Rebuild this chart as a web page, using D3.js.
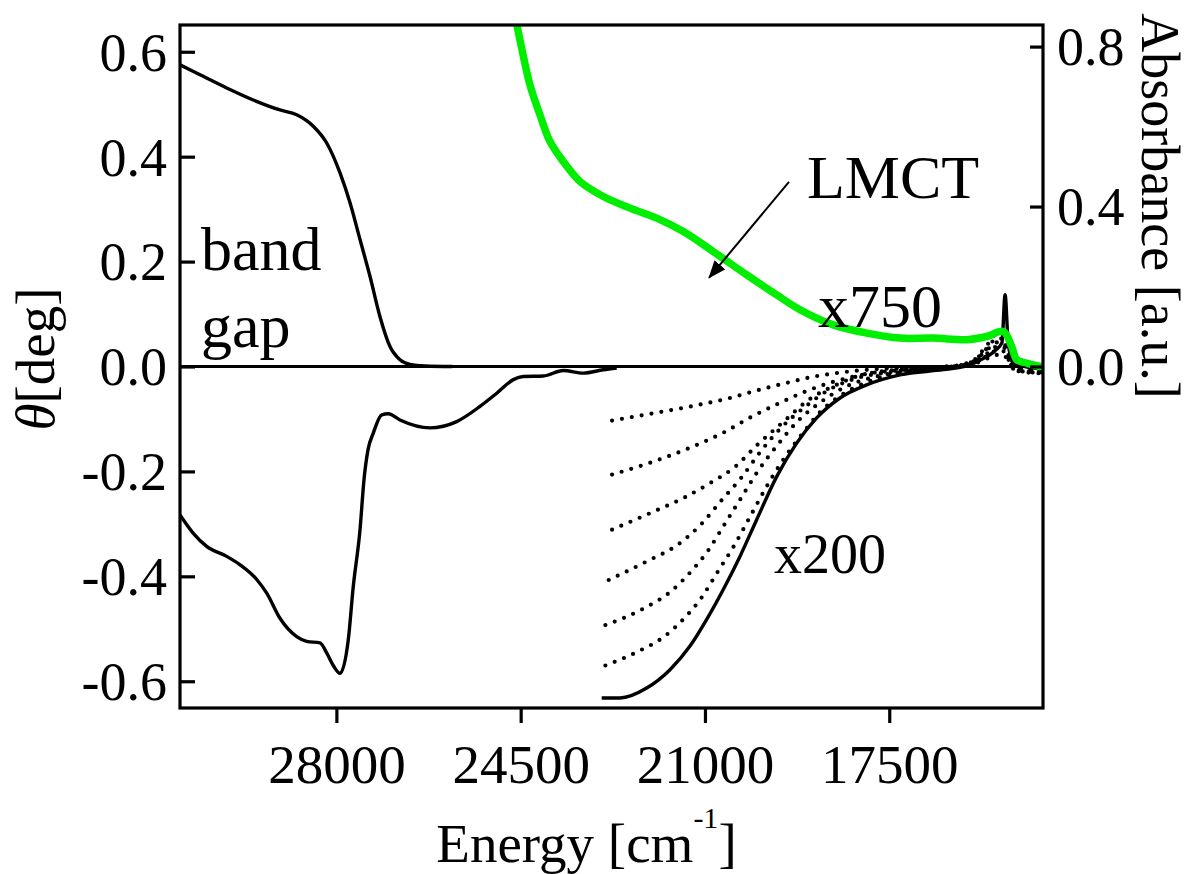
<!DOCTYPE html>
<html><head><meta charset="utf-8">
<script src="https://cdn.jsdelivr.net/npm/d3@7"></script>
<style>html,body{margin:0;padding:0;background:#fff;} svg{display:block;}</style>
</head><body>
<svg id="chart" width="1191" height="874"></svg>
<script>
// ---------- data ----------
const energyTicks = [28000, 24500, 21000, 17500];
const thetaTicks = [-0.6, -0.4, -0.2, 0, 0.2, 0.4, 0.6];
const absTicks = [0, 0.4, 0.8];

// [energy cm^-1, theta deg]
const bandGapPos = [[30970,0.575],[30590,0.556],[30083,0.531],[29578,0.508],[29071,0.489],[28754,0.480],[28438,0.458],[28184,0.426],[27931,0.369],[27741,0.312],[27551,0.242],[27362,0.172],[27172,0.095],[26982,0.038],[26792,0.0128],[26602,0.004],[26317,0.001],[25800,0]];
const bandGapNeg = [[30970,-0.283],[30717,-0.318],[30463,-0.343],[30083,-0.362],[29830,-0.378],[29513,-0.406],[29323,-0.432],[29071,-0.480],[28754,-0.515],[28564,-0.524],[28311,-0.527],[28184,-0.546],[28059,-0.570],[27931,-0.585],[27774,-0.521],[27679,-0.419],[27551,-0.311],[27476,-0.216],[27400,-0.159],[27299,-0.127],[27139,-0.092],[27014,-0.090],[26792,-0.102],[26222,-0.117],[25715,-0.105],[25272,-0.076],[24955,-0.051],[24640,-0.025],[24450,-0.019],[24070,-0.018],[23690,-0.0076],[23311,-0.0126],[22931,-0.0063],[22676,-0.003]];
const x200Solid = [[22961,-0.632],[22614,-0.632],[22107,-0.613],[21664,-0.578],[21284,-0.533],[20967,-0.482],[20652,-0.425],[20335,-0.362],[20018,-0.292],[19638,-0.210],[19258,-0.146],[18878,-0.098],[18435,-0.060],[17928,-0.035],[17296,-0.016],[16474,-0.006],[16029,0.001],[15777,0.012],[15492,0.030],[15360,0.045],[15300,0.137],[15245,0.050],[15200,0.020],[15131,0.005],[14922,0.0],[14580,-0.005]];
const dotted1 = [[22764,-0.103],[22030,-0.090],[21265,-0.076],[20564,-0.061],[19991,-0.045],[19482,-0.032],[18971,-0.020],[18462,-0.012],[18016,-0.007],[17569,-0.004],[16900,-0.002],[16300,0.001],[15900,0.012],[15650,0.040],[15450,0.062],[15330,0.058],[15230,0.028],[15150,0.002],[14922,-0.006],[14580,-0.008]];
const dotted2 = [[22764,-0.206],[22030,-0.183],[21265,-0.154],[20629,-0.125],[20120,-0.096],[19609,-0.071],[19100,-0.048],[18654,-0.032],[18207,-0.020],[17697,-0.010],[17100,-0.005],[16400,-0.001],[15950,0.008],[15650,0.034],[15450,0.054],[15330,0.052],[15230,0.024],[15150,0.0],[14922,-0.007],[14580,-0.009]];
const dotted3 = [[22764,-0.311],[22030,-0.279],[21394,-0.250],[20883,-0.221],[20437,-0.192],[19991,-0.148],[19482,-0.103],[19036,-0.064],[18526,-0.036],[18016,-0.016],[17400,-0.008],[16600,-0.003],[16000,0.005],[15700,0.026],[15450,0.046],[15330,0.045],[15230,0.020],[15150,-0.002],[14922,-0.008],[14580,-0.010]];
const dotted4 = [[22828,-0.407],[22095,-0.371],[21521,-0.340],[21075,-0.301],[20693,-0.256],[20310,-0.212],[19928,-0.160],[19546,-0.116],[19100,-0.077],[18654,-0.045],[18143,-0.023],[17500,-0.011],[16700,-0.004],[16050,0.003],[15700,0.020],[15450,0.038],[15330,0.037],[15230,0.016],[15150,-0.003],[14922,-0.009],[14580,-0.011]];
const dotted5 = [[22891,-0.493],[22158,-0.461],[21649,-0.429],[21267,-0.391],[20948,-0.352],[20629,-0.301],[20310,-0.250],[19991,-0.199],[19609,-0.148],[19227,-0.103],[18844,-0.071],[18335,-0.039],[17700,-0.018],[16900,-0.006],[16100,0.002],[15750,0.014],[15450,0.030],[15330,0.029],[15230,0.012],[15150,-0.004],[14922,-0.010],[14580,-0.012]];
const dotted6 = [[22891,-0.570],[22287,-0.544],[21776,-0.515],[21394,-0.480],[21075,-0.442],[20756,-0.391],[20437,-0.340],[20120,-0.282],[19801,-0.224],[19482,-0.173],[19100,-0.122],[18844,-0.090],[18462,-0.058],[17928,-0.030],[17296,-0.012],[16500,-0.004],[16100,0.0],[15750,0.010],[15450,0.022],[15330,0.022],[15230,0.008],[15150,-0.005],[14922,-0.011],[14580,-0.013]];
// [energy cm^-1, absorbance]
const absorbance = [[24620,0.90],[24575,0.858],[24481,0.796],[24323,0.704],[24133,0.629],[23943,0.5625],[23690,0.5125],[23373,0.4625],[22931,0.425],[22424,0.396],[21917,0.371],[21411,0.3375],[20842,0.2875],[20207,0.229],[19638,0.179],[19195,0.142],[18563,0.104],[17928,0.0835],[17296,0.071],[16663,0.071],[16029,0.067],[15649,0.075],[15334,0.0875],[15175,0.05],[15079,0.017],[14890,0.0085],[14637,0.0]];

// annotations in data coordinates [energy, theta]
const annotations = [
  {text:"band", e:30571, t:0.184, size:62},
  {text:"gap",  e:30571, t:0.0376, size:62},
  {text:"LMCT", e:19062, t:0.322, size:62},
  {text:"x750", e:18853, t:0.0757, size:62},
  {text:"x200", e:19689, t:-0.393, size:56}
];
const arrowFrom = [19404, 0.352], arrowTo = [20923, 0.169];

// ---------- layout ----------
const plot = {left:180, top:25, right:1043, bottom:708};
const FONT = "'Liberation Serif','Times New Roman',Times,serif";
const x = d3.scaleLinear().domain([30970, 14580]).range([plot.left, plot.right]);
const yL = d3.scaleLinear().domain([-0.651, 0.651]).range([plot.bottom, plot.top]);
const yR = d3.scaleLinear().domain([-0.854, 0.854]).range([plot.bottom, plot.top]);

const svg = d3.select("#chart");
const defs = svg.append("defs");
defs.append("clipPath").attr("id","clip").append("rect")
  .attr("x",plot.left).attr("y",plot.top)
  .attr("width",plot.right-plot.left).attr("height",plot.bottom-plot.top);
defs.append("marker").attr("id","arrow").attr("markerUnits","userSpaceOnUse")
  .attr("viewBox","0 0 18 14").attr("markerWidth",18).attr("markerHeight",14)
  .attr("refX",17).attr("refY",7).attr("orient","auto")
  .append("path").attr("d","M0,0 L18,7 L0,14 Z").attr("fill","#000");

const lineL = d3.line().x(d=>x(d[0])).y(d=>yL(d[1])).curve(d3.curveMonotoneX);
const lineR = d3.line().x(d=>x(d[0])).y(d=>yR(d[1])).curve(d3.curveCatmullRom.alpha(0.5));

const g = svg.append("g").attr("clip-path","url(#clip)");

// zero line
g.append("line").attr("x1",plot.left).attr("x2",plot.right)
  .attr("y1",yL(0)).attr("y2",yL(0)).attr("stroke","#000").attr("stroke-width",3.2);

[dotted1,dotted2,dotted3,dotted4,dotted5,dotted6].forEach(d=>{
  g.append("path").datum(d).attr("d",lineL).attr("fill","none")
    .attr("stroke","#000").attr("stroke-width",4.2)
    .attr("stroke-linecap","round").attr("stroke-dasharray","0 10");
});
[bandGapPos, bandGapNeg, x200Solid].forEach(d=>{
  g.append("path").datum(d).attr("d",lineL).attr("fill","none")
    .attr("stroke","#000").attr("stroke-width",3.4).attr("stroke-linejoin","round");
});
g.append("path").datum(absorbance).attr("d",lineR).attr("fill","none")
  .attr("stroke","#00ee00").attr("stroke-width",7.5)
  .attr("stroke-linejoin","round").attr("stroke-linecap","round");

// frame
svg.append("rect").attr("x",plot.left).attr("y",plot.top)
  .attr("width",plot.right-plot.left).attr("height",plot.bottom-plot.top)
  .attr("fill","none").attr("stroke","#000").attr("stroke-width",3.2);

// axes
const gL = svg.append("g").attr("transform",`translate(${plot.left},0)`)
  .call(d3.axisLeft(yL).tickValues(thetaTicks).tickFormat(d=>d.toFixed(1))
    .tickSizeInner(-15).tickSizeOuter(0).tickPadding(13));
gL.select(".domain").remove();
gL.selectAll("line").attr("stroke","#000").attr("stroke-width",3.2);
gL.selectAll("text").attr("font-family",FONT).attr("font-size",54).attr("fill","#000").attr("dy","0.34em");

const gR = svg.append("g").attr("transform",`translate(${plot.right},0)`)
  .call(d3.axisRight(yR).tickValues(absTicks).tickFormat(d=>d.toFixed(1))
    .tickSizeInner(-13).tickSizeOuter(0).tickPadding(14));
gR.select(".domain").remove();
gR.selectAll("line").attr("stroke","#000").attr("stroke-width",3.2);
gR.selectAll("text").attr("font-family",FONT).attr("font-size",54).attr("fill","#000").attr("dy","0.34em");

const gB = svg.append("g").attr("transform",`translate(0,${plot.bottom})`)
  .call(d3.axisBottom(x).tickValues(energyTicks).tickFormat(d=>String(d))
    .tickSizeInner(15).tickSizeOuter(0).tickPadding(20));
gB.select(".domain").remove();
gB.selectAll("line").attr("stroke","#000").attr("stroke-width",3.2);
gB.selectAll("text").attr("font-family",FONT).attr("font-size",55).attr("fill","#000")
  .attr("y",75).attr("dy","0");

// axis titles
const xt = svg.append("text").attr("x",(435+738)/2).attr("y",862)
  .attr("text-anchor","middle").attr("font-family",FONT).attr("font-size",55);
xt.append("tspan").text("Energy [cm");
xt.append("tspan").attr("font-size",30).attr("dy",-34).text("-1");
xt.append("tspan").attr("dy",34).text("]");

const yt = svg.append("text").attr("transform","translate(54,359) rotate(-90)")
  .attr("text-anchor","middle").attr("font-family",FONT).attr("font-size",55);
yt.append("tspan").attr("font-style","italic").text("θ");
yt.append("tspan").text("[deg]");

svg.append("text").attr("transform","translate(1142,206) rotate(90)")
  .attr("text-anchor","middle").attr("font-family",FONT).attr("font-size",54)
  .text("Absorbance [a.u.]");

// annotations
annotations.forEach(a=>{
  svg.append("text").attr("x",x(a.e)).attr("y",yL(a.t))
    .attr("font-family",FONT).attr("font-size",a.size).attr("fill","#000").text(a.text);
});
svg.append("line").attr("x1",x(arrowFrom[0])).attr("y1",yL(arrowFrom[1]))
  .attr("x2",x(arrowTo[0])).attr("y2",yL(arrowTo[1]))
  .attr("stroke","#000").attr("stroke-width",2).attr("marker-end","url(#arrow)");
</script>
</body></html>
